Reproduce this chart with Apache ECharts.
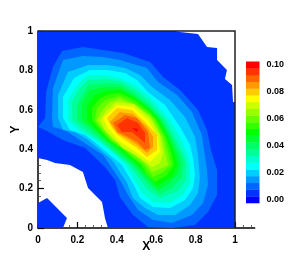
<!DOCTYPE html>
<html><head><meta charset="utf-8">
<style>html,body{margin:0;padding:0;background:#fff}#c{width:289px;height:257px}</style>
<script src="https://cdn.jsdelivr.net/npm/echarts@6/dist/echarts.min.js"></script>
</head><body><div id="c"></div><script>
const colorbarLevels=[0,0.005,0.01,0.015,0.02,0.025,0.03,0.035,0.04,0.045,0.05,0.055,0.06,0.065,0.07,0.075,0.08,0.085,0.09,0.095,0.1];
const bandColors=['#0000ff','#0033ff','#0066ff','#0099ff','#00ccff','#00ffff','#00ffcc','#00ff99','#00ff66','#00ff33','#00ff00','#33ff00','#66ff00','#99ff00','#ccff00','#ffff00','#ffcc00','#ff9900','#ff6600','#ff3300','#ff0000'];
const colorbarTicks=[0,0.02,0.04,0.06,0.08,0.1];
const xTicks=[0,0.2,0.4,0.6,0.8,1];
const band1Main=[[0,.355],[.046,.345],[.086,.330],[.162,.320],[.228,.284],[.254,.203],[.325,.132],[.340,.051],[.355,0],[1,0],[1,.640],[.990,.640],[.985,.726],[.949,.756],[.959,.802],[.909,.853],[.909,.914],[.858,.919],[.812,.985],[.721,.995],[.695,1],[0,1]];
const band1Patch=[[0,0],[.127,0],[.147,.051],[.046,.152],[0,.127]];
const band2=[[0,.513],[.036,.558],[.041,.690],[.076,.817],[.122,.898],[.228,.919],[.330,.904],[.431,.888],[.569,.843],[.635,.766],[.721,.701],[.812,.599],[.858,.497],[.878,.396],[.909,.294],[.909,.168],[.863,.081],[.797,.015],[.680,0],[.558,.005],[.482,.066],[.416,.157],[.391,.244],[.340,.310],[.239,.406],[.127,.447],[.036,.497]];
const band3=[[.076,.513],[.071,.563],[.076,.711],[.127,.853],[.228,.873],[.330,.868],[.416,.853],[.467,.838],[.553,.812],[.609,.741],[.706,.675],[.782,.589],[.832,.472],[.843,.396],[.858,.294],[.863,.218],[.838,.127],[.782,.066],[.680,.025],[.584,.041],[.508,.091],[.457,.168],[.416,.244],[.330,.371],[.213,.447],[.137,.497]];
const band4=[[.127,.497],[.102,.558],[.102,.675],[.152,.792],[.254,.827],[.355,.827],[.442,.812],[.518,.777],[.579,.716],[.670,.650],[.746,.563],[.797,.462],[.812,.371],[.822,.254],[.812,.178],[.772,.117],[.695,.066],[.609,.066],[.543,.102],[.482,.152],[.452,.228],[.376,.345],[.254,.447],[.188,.487]];
const band5=[[.162,.497],[.127,.558],[.127,.665],[.183,.761],[.264,.802],[.355,.802],[.442,.787],[.503,.751],[.558,.690],[.645,.624],[.721,.513],[.772,.421],[.787,.355],[.797,.269],[.787,.203],[.746,.142],[.670,.102],[.584,.107],[.518,.152],[.492,.208],[.426,.320],[.274,.447],[.239,.472]];
const band6=[[.294,.447],[.203,.497],[.152,.548],[.152,.650],[.203,.731],[.254,.777],[.340,.777],[.416,.761],[.492,.726],[.569,.665],[.670,.548],[.721,.462],[.761,.371],[.772,.320],[.772,.228],[.736,.168],[.670,.127],[.584,.132],[.528,.178],[.447,.320],[.365,.396]];
const band7=[[.310,.447],[.234,.497],[.173,.548],[.173,.640],[.213,.711],[.254,.751],[.340,.756],[.416,.746],[.492,.706],[.569,.640],[.650,.548],[.695,.462],[.741,.371],[.756,.320],[.751,.244],[.711,.188],[.619,.152],[.558,.193],[.462,.320],[.381,.386]];
const band8=[[.325,.447],[.264,.497],[.198,.548],[.198,.624],[.254,.726],[.340,.736],[.416,.731],[.492,.685],[.569,.619],[.635,.548],[.680,.462],[.726,.371],[.736,.320],[.731,.259],[.680,.203],[.619,.173],[.569,.213],[.477,.320],[.396,.386]];
const band9=[[.340,.447],[.284,.497],[.223,.548],[.223,.635],[.264,.701],[.340,.716],[.416,.716],[.492,.670],[.569,.609],[.624,.548],[.670,.462],[.711,.371],[.721,.320],[.711,.274],[.660,.223],[.609,.193],[.569,.234],[.492,.320],[.411,.386]];
const band10=[[.350,.447],[.299,.497],[.249,.548],[.249,.619],[.289,.675],[.345,.695],[.416,.701],[.492,.660],[.569,.599],[.614,.548],[.660,.462],[.695,.371],[.706,.320],[.680,.259],[.604,.213],[.569,.254],[.508,.320],[.421,.396]];
const band11=[[.360,.447],[.315,.497],[.274,.548],[.274,.609],[.315,.660],[.365,.680],[.416,.685],[.492,.650],[.569,.589],[.604,.548],[.650,.462],[.680,.371],[.690,.320],[.655,.269],[.594,.234],[.553,.269],[.523,.320],[.431,.396]];
const band12=[[.371,.447],[.325,.497],[.289,.548],[.299,.609],[.340,.650],[.416,.670],[.492,.635],[.569,.579],[.594,.548],[.640,.462],[.665,.371],[.675,.320],[.635,.284],[.584,.259],[.538,.320],[.442,.396]];
const band13=[[.381,.447],[.335,.497],[.299,.548],[.325,.599],[.365,.640],[.416,.655],[.492,.624],[.569,.569],[.584,.548],[.629,.462],[.650,.371],[.660,.320],[.619,.299],[.579,.284],[.553,.320],[.457,.406]];
const band14=[[.391,.447],[.340,.497],[.315,.548],[.350,.599],[.396,.640],[.487,.629],[.569,.558],[.619,.472],[.635,.381],[.619,.330],[.579,.310],[.492,.371],[.431,.406]];
const band15=[[.406,.447],[.355,.508],[.330,.558],[.401,.624],[.482,.614],[.558,.548],[.609,.462],[.619,.386],[.569,.335],[.503,.381],[.442,.421]];
const band16=[[.350,.558],[.401,.609],[.477,.599],[.543,.538],[.604,.472],[.604,.396],[.553,.360],[.503,.406],[.457,.437],[.406,.472],[.376,.508]];
const band17=[[.365,.538],[.416,.589],[.482,.579],[.553,.513],[.584,.462],[.584,.411],[.553,.381],[.503,.421],[.457,.452],[.401,.482]];
const band18=[[.381,.533],[.442,.574],[.503,.558],[.558,.487],[.569,.406],[.543,.396],[.503,.437],[.457,.462],[.406,.487]];
const band19=[[.401,.523],[.452,.558],[.508,.533],[.543,.482],[.543,.431],[.508,.462],[.477,.487],[.426,.487]];
const band20=[[.477,.508],[.508,.503],[.503,.487]];
const frameLine=[[0,1],[1,1],[1,0]];

const contours=[[1,band1Main],[1,band1Patch],[2,band2],[3,band3],[4,band4],[5,band5],[6,band6],[7,band7],[8,band8],[9,band9],[10,band10],[11,band11],[12,band12],[13,band13],[14,band14],[15,band15],[16,band16],[17,band17],[18,band18],[19,band19],[20,band20]];
const font='"Liberation Sans",Arial,sans-serif';
const chart=echarts.init(document.getElementById('c'),null,{renderer:'canvas'});
chart.setOption({
  animation:false,
  grid:[{left:38,top:31,width:216.7,height:197,containLabel:false,outerBoundsMode:'none'},{left:246,top:61.5,width:13.5,height:141.5,containLabel:false,outerBoundsMode:'none'}],
  xAxis:[{gridIndex:0,type:'value',min:0,max:1.1,interval:0.2,name:'X',nameLocation:'middle',nameGap:19,nameMoveOverlap:false,
      nameTextStyle:{fontFamily:font,fontSize:12,fontWeight:'bold',color:'#000',verticalAlign:'middle'},
      axisLine:{show:true,onZero:false,lineStyle:{color:'#000',width:1.5}},
      axisTick:{show:true,inside:true,length:6,customValues:xTicks,lineStyle:{color:'#000',width:1.2}},
      minorTick:{show:true,splitNumber:5,length:3,lineStyle:{color:'#444',width:0.8}},
      splitLine:{show:false},minorSplitLine:{show:false},
      axisLabel:{customValues:xTicks,fontFamily:font,fontSize:10,fontWeight:'bold',color:'#000',margin:7,hideOverlap:false}},
    {gridIndex:1,type:'value',min:0,max:1,show:false}],
  yAxis:[{gridIndex:0,type:'value',min:0,max:1,interval:0.2,name:'Y',nameLocation:'middle',nameGap:22,nameRotate:90,nameMoveOverlap:false,
      nameTextStyle:{fontFamily:font,fontSize:12,fontWeight:'bold',color:'#000',verticalAlign:'middle'},
      axisLine:{show:true,onZero:false,lineStyle:{color:'#000',width:1.5}},
      axisTick:{show:true,inside:true,length:6,lineStyle:{color:'#000',width:1.2}},
      minorTick:{show:true,splitNumber:5,length:3,lineStyle:{color:'#444',width:0.8}},
      splitLine:{show:false},minorSplitLine:{show:false},
      axisLabel:{fontFamily:font,fontSize:10,fontWeight:'bold',color:'#000',margin:5}},
    {gridIndex:1,type:'value',min:-0.0025,max:0.1025,position:'right',
      axisLine:{show:false},axisTick:{show:false},splitLine:{show:false},
      axisLabel:{customValues:colorbarTicks,formatter:v=>v.toFixed(2),fontFamily:font,fontSize:9,fontWeight:'bold',color:'#000',margin:7}}],
  series:[
    {type:'custom',xAxisIndex:0,yAxisIndex:0,coordinateSystem:'cartesian2d',silent:true,clip:true,
      data:contours.map((c,i)=>[i]),
      renderItem:(p,api)=>{const c=contours[p.dataIndex];
        return {type:'polygon',shape:{points:c[1].map(q=>api.coord(q))},style:{fill:bandColors[c[0]]}};}},
    {type:'custom',xAxisIndex:0,yAxisIndex:0,coordinateSystem:'cartesian2d',silent:true,clip:false,z:5,
      data:[[0]],
      renderItem:(p,api)=>({type:'polyline',shape:{points:frameLine.map(q=>api.coord(q))},style:{fill:'none',stroke:'#222',lineWidth:1.5}})},
    {type:'custom',xAxisIndex:1,yAxisIndex:1,coordinateSystem:'cartesian2d',silent:true,
      data:colorbarLevels.map((v,i)=>[i,v]),
      renderItem:(p,api)=>{const v=api.value(1);const a=api.coord([0,v+0.0025]);const b=api.coord([1,v-0.0025]);
        return {type:'rect',shape:{x:a[0],y:a[1],width:b[0]-a[0],height:b[1]-a[1]+0.3},style:{fill:bandColors[p.dataIndex]}};}}
  ]
});
</script></body></html>
